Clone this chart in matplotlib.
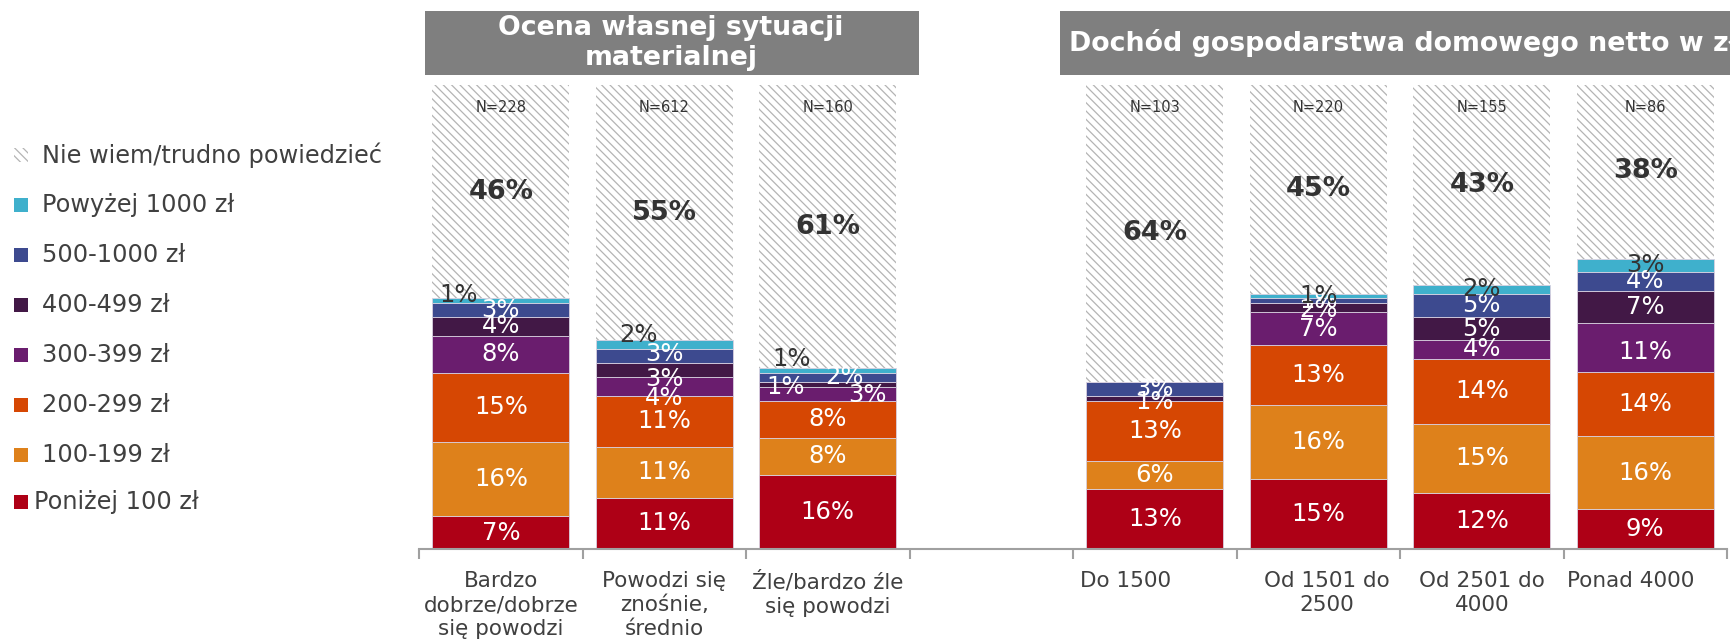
import numpy as np
import matplotlib
matplotlib.use("Agg")
import matplotlib.pyplot as plt
from matplotlib.patches import Rectangle

plt.rcParams['font.family'] = ['DejaVu Sans']
plt.rcParams['hatch.linewidth'] = 0.9

# ---- data ----
categories = ["Bardzo\ndobrze/dobrze\nsię powodzi", "Powodzi się\nznośnie,\nśrednio",
              "Źle/bardzo źle\nsię powodzi", "Do 1500", "Od 1501 do\n2500",
              "Od 2501 do\n4000", "Ponad 4000"]
n_sizes = [228, 612, 160, 103, 220, 155, 86]

series_names = ["Poniżej 100 zł", "100-199 zł", "200-299 zł", "300-399 zł",
                "400-499 zł", "500-1000 zł", "Powyżej 1000 zł", "Nie wiem/trudno powiedzieć"]
ponizej_100 = [7, 11, 16, 13, 15, 12, 8.6]
od_100_199 = [16, 11, 8, 6, 16, 15, 15.7]
od_200_299 = [15, 11, 8, 13, 13, 14, 13.8]
od_300_399 = [8, 4, 3, 0, 7, 4, 10.7]
od_400_499 = [4, 3, 1, 1, 2, 5, 6.9]
od_500_1000 = [3, 3, 2, 3, 1, 5, 4.1]
powyzej_1000 = [1, 2, 1, 0, 1, 2, 2.8]
nie_wiem = [46, 55, 61, 64, 45, 43, 37.6]

group_titles = ["Ocena własnej sytuacji\nmaterialnej", "Dochód gospodarstwa domowego netto w zł"]

# ---- styles / layout ----
colors = ["#AE0016", "#DE811B", "#D64703", "#6A1D6E", "#421846", "#3D4A8F", "#3FB0CC"]
hatch_col = "#b4b4b4"
txt_col = "#404040"
xpos = [0, 1, 2, 4, 5, 6, 7]      # slot 3 left empty between the two groups
bar_w = 0.84
# small label nudges for thin segments: (bar, series) -> (dx, dy)
nudge = {(0, 6): (-0.26, 1.3),
         (1, 6): (-0.16, 2.2), (1, 5): (0, 0.5), (1, 4): (0, -1.8), (1, 3): (0, -2.4),
         (2, 6): (-0.22, 2.5), (2, 5): (0.1, 0), (2, 4): (-0.26, -0.5), (2, 3): (0.24, -0.4),
         (3, 4): (0, -0.8), (4, 4): (0, -0.6), (6, 3): (0, -1.0)}
cat_dx = [0, 0, 0, -0.18, 0.05, 0, -0.09]

fig = plt.figure(figsize=(17.31, 6.42), dpi=100)
ax = fig.add_axes([0.2421, 0.1449, 0.7556, 0.7227])

values = [ponizej_100, od_100_199, od_200_299, od_300_399, od_400_499, od_500_1000, powyzej_1000]
bottom = np.zeros(len(xpos))
for s, vals in enumerate(values):
    vals = np.array(vals, dtype=float)
    ax.bar(xpos, vals, bar_w, bottom=bottom, color=colors[s], edgecolor="#d8d0e0", linewidth=0.6)
    for i, v in enumerate(vals):
        if v <= 0:
            continue
        dx, dy = nudge.get((i, s), (0, 0))
        c = "#333333" if s == 6 else "white"
        ax.text(xpos[i] + dx, bottom[i] + v / 2 + dy, "%.0f%%" % v, ha="center", va="center",
                color=c, fontsize=17.5)
    bottom += vals

nw = np.array(nie_wiem, dtype=float)
ax.bar(xpos, nw, bar_w, bottom=bottom, color="white", edgecolor=hatch_col, linewidth=0,
       hatch="\\\\\\\\")
for i, v in enumerate(nw):
    ax.text(xpos[i], bottom[i] + v / 2, "%.0f%%" % v, ha="center", va="center",
            color="#333333", fontsize=19.5, fontweight="bold")
    ax.text(xpos[i], 95.2, "N=%d" % n_sizes[i], ha="center", va="center", color="#333333",
            fontsize=10.5)

ax.set_xlim(-0.5, 7.5)
ax.set_ylim(0, 100)
for sp in ["top", "right", "left"]:
    ax.spines[sp].set_visible(False)
ax.spines["bottom"].set_color("#a0a0a0")
ax.spines["bottom"].set_linewidth(1.5)
ax.set_yticks([])
ax.set_xticks(np.arange(-0.5, 8, 1))
ax.set_xticklabels([])
ax.tick_params(axis="x", direction="out", length=7, width=1.5, color="#a0a0a0")

for i, lab in enumerate(categories):
    ax.annotate(lab, xy=(xpos[i] + cat_dx[i], 0), xycoords=("data", "axes fraction"),
                xytext=(0, -16), textcoords="offset points", ha="center", va="top",
                fontsize=15.5, color=txt_col, linespacing=1.25)

# header boxes
fig.add_artist(Rectangle((0.2455, 0.8832), 0.2854, 0.0997, transform=fig.transFigure,
                         facecolor="#7f7f7f", edgecolor="none"))
fig.text(0.3877, 0.9330, group_titles[0], ha="center", va="center", color="white",
         fontsize=19.3, fontweight="bold", linespacing=1.2)
fig.add_artist(Rectangle((0.6124, 0.8832), 0.40, 0.0997, transform=fig.transFigure,
                         facecolor="#7f7f7f", edgecolor="none"))
fig.text(0.6175, 0.9330, group_titles[1], ha="left", va="center", color="white",
         fontsize=19.3, fontweight="bold")

# legend, drawn by hand (top entry first)
leg_y = [155, 205, 255, 305, 355, 405, 455, 502]
leg_items = list(zip(series_names[::-1], [None] + colors[::-1]))
for k, (name, col) in enumerate(leg_items):
    yc = 1 - leg_y[k] / 642.0
    if col is None:
        fig.add_artist(Rectangle((14 / 1731, yc - 7 / 642), 14 / 1731, 14 / 642,
                                 transform=fig.transFigure, facecolor="white",
                                 edgecolor=hatch_col, linewidth=0, hatch="\\\\\\\\"))
    else:
        fig.add_artist(Rectangle((14 / 1731, yc - 7 / 642), 14 / 1731, 14 / 642,
                                 transform=fig.transFigure, facecolor=col, edgecolor="none"))
    tx = 34 / 1731 if k == len(leg_items) - 1 else 42 / 1731
    fig.text(tx, yc, name, ha="left", va="center", fontsize=17.3, color=txt_col)

fig.savefig("out.png", dpi=100)
